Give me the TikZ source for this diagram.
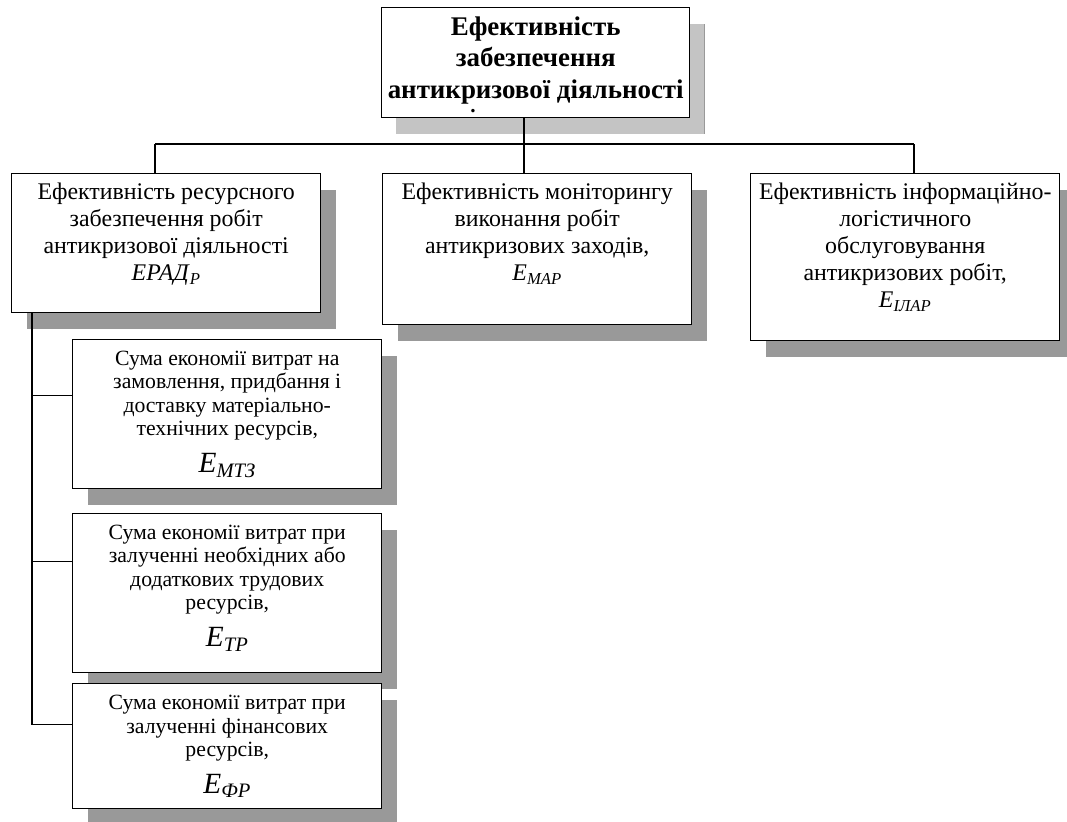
\documentclass[tikz,border=0pt]{standalone}
\usepackage{fontspec}
\setmainfont{Liberation Serif}
\usetikzlibrary{shadows,positioning}

\newcommand{\eind}[2]{\textit{#1}\textsubscript{\textit{#2}}}

\tikzset{
  blk/.style={draw, line width=1.1pt, fill=white, anchor=north west, inner sep=0pt,
    drop shadow={shadow xshift=11.25pt, shadow yshift=-12pt, fill=black!40, opacity=1}},
  headtxt/.style={align=center, inner sep=0pt, font=\fontsize{20.2}{23.6}\selectfont\bfseries},
  maintxt/.style={align=center, inner sep=0pt, font=\fontsize{17.9}{20.25}\selectfont},
  subtxt/.style={align=center, inner sep=0pt, font=\fontsize{16.3}{17.5}\selectfont}
}

\begin{document}
\begin{tikzpicture}[x=0.75pt,y=0.75pt,yscale=-1,xscale=1]
\useasboundingbox (0,0) rectangle (1067,821);

% top block
\node [blk, minimum width=231pt, minimum height=82.5pt,
  drop shadow={shadow xshift=10.5pt, shadow yshift=-12pt, fill=black!23, opacity=1}] (top) at (381,7) {};
\node [headtxt, below=7pt of top.north] (toptxt) {Ефективність\\забезпечення\\антикризової діяльності};
\node [font=\fontsize{16}{16}\selectfont\bfseries, inner sep=0pt, anchor=base] (topdot) at (473,112) {.};

% second level
\node [blk, minimum width=231.75pt, minimum height=104.25pt] (res) at (11,173) {};
\node [maintxt, below=7.5pt of res.north] (restxt) {Ефективність ресурсного\\забезпечення робіт\\антикризової діяльності\\\eind{ЕРАД}{Р}};

\node [blk, minimum width=231.75pt, minimum height=113.25pt] (mon) at (382,173) {};
\node [maintxt, below=7.5pt of mon.north] (montxt) {Ефективність моніторингу\\виконання робіт\\антикризових заходів,\\\eind{Е}{МАР}};

\node [blk, minimum width=231.75pt, minimum height=125.25pt] (inf) at (750,173) {};
\node [maintxt, below=7.5pt of inf.north] (inftxt) {Ефективність інформаційно-\\логістичного\\обслуговування\\антикризових робіт,\\\eind{Е}{ІЛАР}};

% resource parts
\node [blk, minimum width=231.75pt, minimum height=111.75pt] (mtz) at (72,339) {};
\node [subtxt, below=9pt of mtz.north] (mtztxt) {Сума економії витрат на\\замовлення, придбання і\\доставку матеріально-\\технічних ресурсів,\\[9pt]{\fontsize{22}{22}\selectfont\eind{Е}{МТЗ}}};

\node [blk, minimum width=231.75pt, minimum height=119.25pt] (tr) at (72,513) {};
\node [subtxt, below=9pt of tr.north] (trtxt) {Сума економії витрат при\\залученні необхідних або\\додаткових трудових\\ресурсів,\\[9pt]{\fontsize{22}{22}\selectfont\eind{Е}{ТР}}};

\node [blk, minimum width=231.75pt, minimum height=93.75pt] (fr) at (72,683) {};
\node [subtxt, below=9pt of fr.north] (frtxt) {Сума економії витрат при\\залученні фінансових\\ресурсів,\\[9pt]{\fontsize{22}{22}\selectfont\eind{Е}{ФР}}};

% connectors
\coordinate (jL) at (155,144);
\coordinate (jM) at (524,144);
\coordinate (jR) at (914,144);
\coordinate (jS) at (32,0);
\draw [line width=0.8pt] (top.south -| jM) -- (jM);
\draw [line width=0.8pt] (jL) -- (jR);
\draw [line width=0.8pt] (jL) -- (res.north -| jL);
\draw [line width=0.8pt] (jM) -- (mon.north -| jM);
\draw [line width=0.8pt] (jR) -- (inf.north -| jR);
\draw [line width=0.8pt] (res.south -| jS) |- ([yshift=-16pt]fr.west);
\draw [line width=0.8pt] ([yshift=-14pt]mtz.west) -- ++(-40,0);
\draw [line width=0.8pt] ([yshift=-23.5pt]tr.west) -- ++(-40,0);

\end{tikzpicture}
\end{document}
